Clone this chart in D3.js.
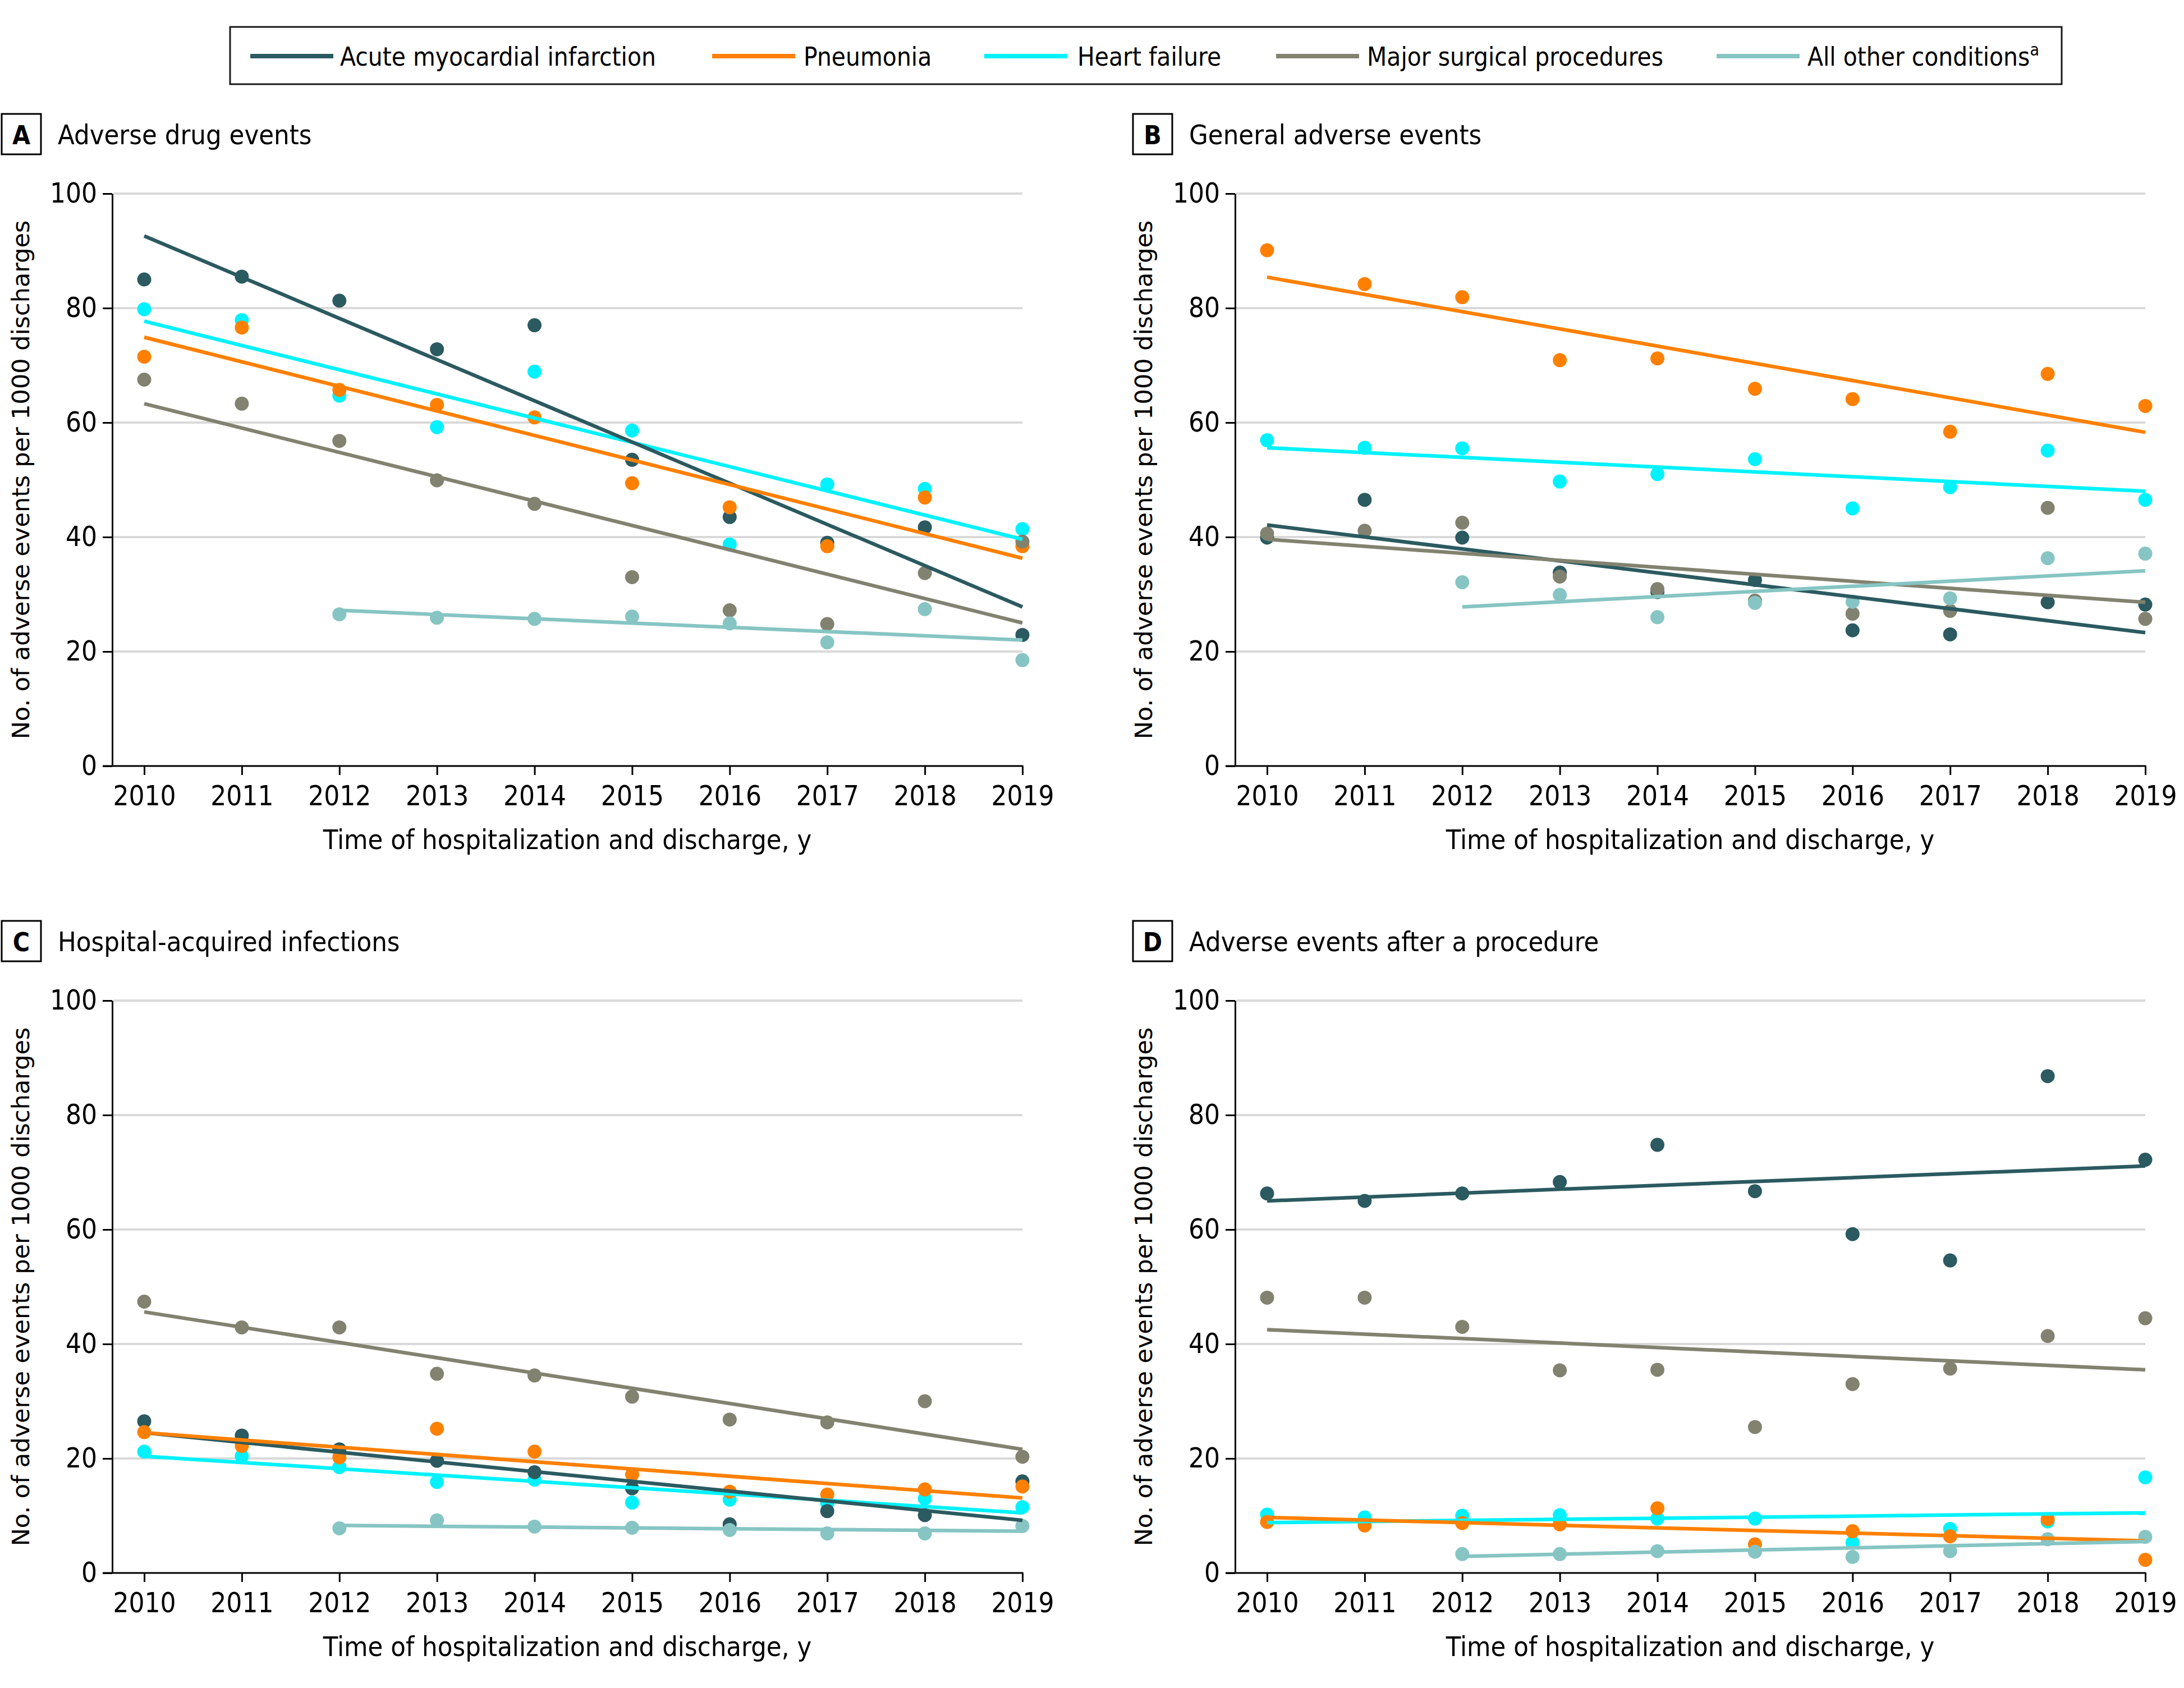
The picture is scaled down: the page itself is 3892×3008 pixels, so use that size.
<!DOCTYPE html>
<html>
<head>
<meta charset="utf-8">
<script src="https://cdn.jsdelivr.net/npm/d3@7/dist/d3.min.js"></script>
<style>
  body { margin: 0; background: #fff; }
  svg text { fill: #000; }
</style>
</head>
<body>
<div id="chart"></div>
<script>
// years on the x axis
var years = [2010, 2011, 2012, 2013, 2014, 2015, 2016, 2017, 2018, 2019];
var yTicks = [0, 20, 40, 60, 80, 100];

var seriesNames = ["Acute myocardial infarction", "Pneumonia", "Heart failure", "Major surgical procedures", "All other conditions"];
var seriesColors = ["#2b5a60", "#ff8000", "#00f2ff", "#828270", "#86c5c3"];

// A - adverse drug events
var adeAmi   = [85.0, 85.5, 81.3, 72.8, 77.0, 53.5, 43.5, 39.0, 41.7, 22.9];
var adePneu  = [71.5, 76.6, 65.7, 63.1, 60.9, 49.4, 45.2, 38.4, 46.9, 38.4];
var adeHf    = [79.8, 77.9, 64.7, 59.2, 68.9, 58.6, 38.7, 49.2, 48.4, 41.4];
var adeSurg  = [67.5, 63.3, 56.8, 49.9, 45.8, 33.0, 27.2, 24.8, 33.7, 39.2];
var adeOther = [null, null, 26.5, 25.9, 25.7, 26.1, 24.9, 21.6, 27.4, 18.5];
// fitted trend lines, [first year value, 2019 value]
var adeTrend = [[92.6, 27.8], [74.9, 36.3], [77.7, 39.6], [63.3, 25.0], [27.2, 22.0]];

// B - general adverse events
var genAmi   = [39.9, 46.5, 39.9, 33.8, 30.4, 32.5, 23.7, 23.0, 28.6, 28.2];
var genPneu  = [90.1, 84.2, 81.9, 70.9, 71.2, 65.9, 64.1, 58.4, 68.5, 62.9];
var genHf    = [56.9, 55.6, 55.5, 49.7, 51.0, 53.6, 45.0, 48.7, 55.1, 46.5];
var genSurg  = [40.6, 41.1, 42.5, 33.1, 30.9, 28.9, 26.6, 27.1, 45.1, 25.7];
var genOther = [null, null, 32.1, 29.9, 26.0, 28.5, 28.7, 29.3, 36.3, 37.1];
var genTrend = [[42.1, 23.3], [85.4, 58.3], [55.6, 48.0], [39.6, 28.6], [27.8, 34.1]];

// C - hospital-acquired infections
var haiAmi   = [26.5, 24.0, 21.6, 19.6, 17.6, 14.8, 8.5, 10.8, 10.1, 16.0];
var haiPneu  = [24.6, 22.2, 20.2, 25.2, 21.2, 17.2, 14.2, 13.7, 14.6, 15.1];
var haiHf    = [21.2, 20.4, 18.5, 15.9, 16.3, 12.3, 12.8, 12.1, 13.0, 11.5];
var haiSurg  = [47.4, 42.9, 42.9, 34.8, 34.5, 30.8, 26.8, 26.3, 30.0, 20.3];
var haiOther = [null, null, 7.8, 9.2, 8.1, 7.9, 7.5, 6.9, 6.9, 8.2];
var haiTrend = [[24.5, 9.2], [24.5, 13.1], [20.4, 10.5], [45.6, 21.6], [8.3, 7.3]];

// D - adverse events after a procedure
var procAmi   = [66.3, 65.0, 66.3, 68.3, 74.8, 66.7, 59.2, 54.6, 86.8, 72.2];
var procPneu  = [8.9, 8.3, 8.7, 8.5, 11.3, 5.0, 7.3, 6.4, 9.4, 2.3];
var procHf    = [10.2, 9.7, 10.0, 10.1, 9.5, 9.5, 5.3, 7.7, 9.0, 16.7];
var procSurg  = [48.1, 48.1, 43.0, 35.4, 35.5, 25.5, 33.0, 35.7, 41.4, 44.5];
var procOther = [null, null, 3.3, 3.3, 3.8, 3.7, 2.8, 3.8, 5.9, 6.3];
var procTrend = [[65.0, 71.1], [9.7, 5.6], [8.8, 10.5], [42.5, 35.5], [2.9, 5.5]];

var panels = [
  {letter: "A", title: "Adverse drug events", col: 0, row: 0,
   values: [adeAmi, adePneu, adeHf, adeSurg, adeOther], trend: adeTrend},
  {letter: "B", title: "General adverse events", col: 1, row: 0,
   values: [genAmi, genPneu, genHf, genSurg, genOther], trend: genTrend},
  {letter: "C", title: "Hospital-acquired infections", col: 0, row: 1,
   values: [haiAmi, haiPneu, haiHf, haiSurg, haiOther], trend: haiTrend},
  {letter: "D", title: "Adverse events after a procedure", col: 1, row: 1,
   values: [procAmi, procPneu, procHf, procSurg, procOther], trend: procTrend}
];

// draw order so overlapping dots stack like the original
var drawOrder = [2, 0, 1, 3, 4];

var COND = "'DejaVu Sans Condensed', 'DejaVu Sans', sans-serif";
var WIDE = "'DejaVu Sans', sans-serif";

var W = 3892, H = 3008;
var colShift = 2001, labelShift = 2016, rowShift = 1438;

var svg = d3.select("#chart").append("svg")
    .attr("width", W)
    .attr("height", H)
    .style("display", "block");

svg.append("rect").attr("width", W).attr("height", H).attr("fill", "#fff");

// legend
var legendSwatchX = [446, 1269, 1754, 2274, 3059];
var legendTextX = [606, 1432, 1920, 2436, 3221];

svg.append("rect")
    .attr("x", 410).attr("y", 48)
    .attr("width", 3264).attr("height", 102)
    .attr("fill", "none")
    .attr("stroke", "#1a1a1a")
    .attr("stroke-width", 3);

var leg = svg.append("g").attr("class", "legend");
seriesNames.forEach(function(name, i) {
  leg.append("line")
      .attr("x1", legendSwatchX[i]).attr("x2", legendSwatchX[i] + 148)
      .attr("y1", 100).attr("y2", 100)
      .attr("stroke", seriesColors[i])
      .attr("stroke-width", 8);
  var t = leg.append("text")
      .attr("x", legendTextX[i]).attr("y", 117)
      .style("font-family", COND)
      .style("font-stretch", "condensed")
      .style("font-size", "45.5px")
      .text(name);
  if (i === 4) {
    t.append("tspan")
        .attr("dy", -18)
        .style("font-size", "30px")
        .text("a");
  }
});

panels.forEach(function(p) {
  var ox = p.col * colShift;
  var oy = p.row * rowShift;
  var lx = p.col * labelShift;

  var x = d3.scaleLinear().domain([2010, 2019]).range([257 + ox, 1822 + ox]);
  var y = d3.scaleLinear().domain([0, 100]).range([1365 + oy, 345 + oy]);
  var axisX = 200 + ox;

  var g = svg.append("g").attr("class", "panel");

  // panel letter box + title
  g.append("rect")
      .attr("x", 3 + lx).attr("y", 203 + oy)
      .attr("width", 70).attr("height", 72)
      .attr("fill", "none")
      .attr("stroke", "#000")
      .attr("stroke-width", 3);
  g.append("text")
      .attr("x", 38 + lx).attr("y", 257 + oy)
      .attr("text-anchor", "middle")
      .style("font-family", COND)
      .style("font-stretch", "condensed")
      .style("font-weight", "bold")
      .style("font-size", "46px")
      .text(p.letter);
  g.append("text")
      .attr("x", 103 + lx).attr("y", 257 + oy)
      .style("font-family", COND)
      .style("font-stretch", "condensed")
      .style("font-size", "48.5px")
      .text(p.title);

  // gridlines
  g.selectAll(".grid")
      .data(yTicks.filter(function(d) { return d > 0; }))
      .enter().append("line")
      .attr("class", "grid")
      .attr("x1", axisX + 2).attr("x2", x(2019))
      .attr("y1", function(d) { return y(d); })
      .attr("y2", function(d) { return y(d); })
      .attr("stroke", "#d9d9d9")
      .attr("stroke-width", 4);

  // y axis
  var yAxis = g.append("g")
      .attr("transform", "translate(" + axisX + ",0)")
      .call(d3.axisLeft(y).tickValues(yTicks).tickSize(17).tickSizeOuter(0).tickPadding(10));
  yAxis.select(".domain").attr("stroke", "#000").attr("stroke-width", 3);
  yAxis.selectAll(".tick line").attr("stroke", "#000").attr("stroke-width", 3);
  yAxis.selectAll(".tick text")
      .style("font-family", COND)
      .style("font-stretch", "condensed")
      .style("font-size", "49px")
      .attr("fill", "#000");

  // x axis
  var xAxis = g.append("g")
      .attr("transform", "translate(0," + y(0) + ")")
      .call(d3.axisBottom(x).tickValues(years).tickFormat(d3.format("d")).tickSize(16).tickSizeOuter(0).tickPadding(19));
  xAxis.select(".domain").remove();
  xAxis.selectAll(".tick line").attr("stroke", "#000").attr("stroke-width", 3);
  xAxis.selectAll(".tick text")
      .style("font-family", COND)
      .style("font-stretch", "condensed")
      .style("font-size", "49px")
      .attr("fill", "#000");
  g.append("line")
      .attr("x1", axisX - 17).attr("x2", x(2019) + 1.5)
      .attr("y1", y(0)).attr("y2", y(0))
      .attr("stroke", "#000")
      .attr("stroke-width", 3);

  // axis titles
  g.append("text")
      .attr("x", (axisX + x(2019)) / 2).attr("y", 1513 + oy)
      .attr("text-anchor", "middle")
      .style("font-family", COND)
      .style("font-stretch", "condensed")
      .style("font-size", "48.5px")
      .text("Time of hospitalization and discharge, y");
  g.append("text")
      .attr("transform", "translate(" + (52 + ox) + "," + ((y(0) + y(100)) / 2) + ") rotate(-90)")
      .attr("text-anchor", "middle")
      .style("font-family", WIDE)
      .style("font-size", "43px")
      .text("No. of adverse events per 1000 discharges");

  // dots
  drawOrder.forEach(function(si) {
    var pts = years.map(function(yr, i) { return {year: yr, v: p.values[si][i]}; })
        .filter(function(d) { return d.v !== null; });
    g.append("g").selectAll("circle")
        .data(pts)
        .enter().append("circle")
        .attr("cx", function(d) { return x(d.year); })
        .attr("cy", function(d) { return y(d.v); })
        .attr("r", 12.5)
        .attr("fill", seriesColors[si]);
  });

  // trend lines
  drawOrder.forEach(function(si) {
    var startYear = si === 4 ? 2012 : 2010;
    var tr = [{year: startYear, v: p.trend[si][0]}, {year: 2019, v: p.trend[si][1]}];
    g.append("path")
        .datum(tr)
        .attr("fill", "none")
        .attr("stroke", seriesColors[si])
        .attr("stroke-width", 6.5)
        .attr("d", d3.line().x(function(d) { return x(d.year); }).y(function(d) { return y(d.v); }));
  });
});
</script>
</body>
</html>
